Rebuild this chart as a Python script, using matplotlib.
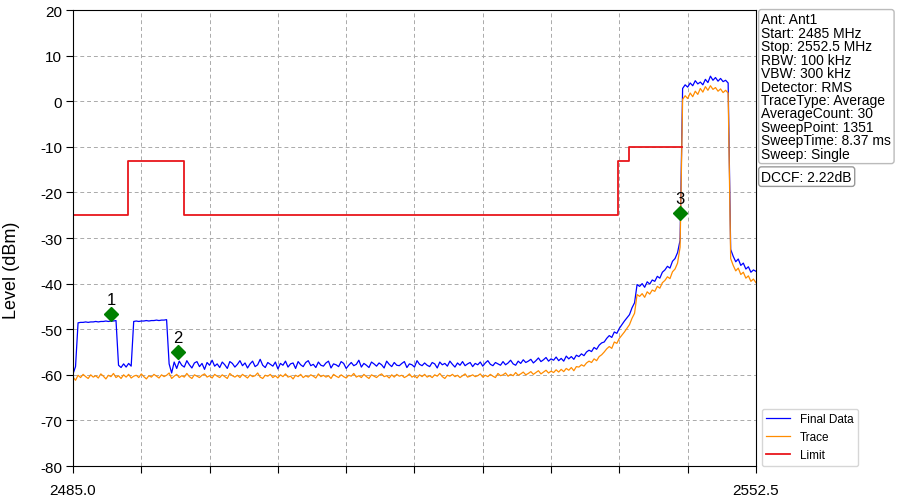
import numpy as np
import matplotlib.pyplot as plt

plt.rcParams['font.family'] = ['Liberation Sans', 'DejaVu Sans']
plt.rcParams['axes.unicode_minus'] = False

# sweep: 2485 .. 2552.5 MHz, read every 0.25 MHz
f_start = 2485.0
f_stop = 2552.5
freq = np.arange(f_start, f_stop + 0.001, 0.25)

# Final Data (dBm), 10 points per row = 2.5 MHz
final_data = [
    -59.8, -58.2, -48.6, -48.5, -48.5, -48.4, -48.5, -48.4, -48.4, -48.3,
    -48.4, -48.3, -48.3, -48.2, -48.3, -48.2, -48.2, -48.1, -57.9, -58.4,
    -57.6, -58.3, -57.5, -58.1, -48.3, -48.2, -48.3, -48.2, -48.2, -48.1,
    -48.2, -48.1, -48.1, -48.0, -48.1, -48.0, -48.0, -47.9, -57.6, -59.6,
    -57.2, -58.6, -57.0, -57.9, -58.3, -56.9, -57.8, -58.5, -57.4, -57.1,
    -58.2, -57.5, -58.8, -57.3, -57.9, -56.8, -58.1, -57.6, -58.4, -57.2,
    -57.8, -58.6, -57.1, -57.5, -58.3, -57.7, -56.9, -58.0, -57.4, -58.5,
    -57.6, -57.0, -58.2, -57.8, -56.6, -57.9, -58.4, -57.3, -57.7, -58.1,
    -57.2, -58.7, -57.5, -57.9, -57.0, -58.3, -57.6, -57.4, -58.6, -57.1,
    -57.8, -58.2, -57.3, -56.9, -58.0, -57.7, -58.4, -57.2, -57.9, -58.1,
    -57.4, -57.0, -58.5, -57.6, -57.8, -58.2, -57.1, -57.5, -58.6, -57.9,
    -57.3, -58.0, -57.7, -56.8, -58.3, -57.5, -57.9, -58.4, -57.2, -57.6,
    -58.1, -57.4, -57.8, -58.5, -57.0, -57.7, -58.2, -57.3, -57.9, -58.0,
    -57.5, -57.1, -58.4, -57.6, -57.8, -58.3, -56.9, -57.7, -58.0, -57.4,
    -57.9, -58.2, -57.3, -57.6, -58.5, -57.2, -57.8, -57.5, -58.1, -57.0,
    -57.7, -58.3, -57.4, -57.9, -57.1, -58.0, -57.6, -57.3, -58.2, -57.5,
    -57.8, -57.2, -58.1, -57.4, -56.9, -57.7, -58.0, -57.3, -57.6, -57.9,
    -57.1, -57.8, -57.4, -56.8, -57.6, -57.9, -57.0, -57.5, -56.7, -57.3,
    -57.0, -56.6, -57.4, -56.9, -56.3, -57.1, -56.7, -56.2, -57.0, -56.5,
    -56.8, -56.1, -56.9, -56.4, -57.0, -55.9, -56.5, -56.0, -56.6, -55.7,
    -56.0, -55.4, -55.8, -55.0, -54.6, -54.9, -54.0, -54.4, -53.5, -53.0,
    -52.8, -52.0, -51.4, -51.8, -50.6, -50.9, -49.8, -49.0, -48.2, -47.5,
    -46.8, -45.3, -44.2, -40.2, -40.6, -40.0, -40.8, -39.6, -40.1, -39.2,
    -39.5, -38.4, -38.8, -37.5, -37.0, -36.2, -36.6, -35.1, -34.5, -33.2,
    -30.5, 2.8, 3.6, 3.1, 4.0, 3.4, 4.5, 3.8, 4.2, 3.6,
    4.8, 4.1, 5.5, 4.6, 5.2, 4.4, 5.0, 4.3, 4.6, 4.0,
    -32.5, -34.0, -35.2, -34.6, -36.0, -35.5, -36.8, -36.3, -37.5, -37.0,
    -37.3,
]

# Trace (dBm)
trace = [
    -60.5, -61.2, -60.1, -60.6, -59.9, -60.4, -60.8, -60.0, -60.5, -60.2,
    -60.7, -59.8, -60.3, -60.9, -60.1, -60.4, -59.7, -60.6, -60.2, -60.8,
    -60.0, -60.5, -59.9, -60.7, -60.3, -60.1, -60.6, -59.8, -60.4, -60.9,
    -60.2, -60.5, -59.9, -60.3, -60.7, -60.0, -60.4, -60.1, -59.6, -60.8,
    -60.3, -59.9, -60.6, -60.2, -60.5, -59.7, -60.4, -60.8, -60.0, -60.3,
    -60.6, -60.1, -59.8, -60.5, -60.2, -60.7, -59.9, -60.3, -60.6, -60.0,
    -60.4, -60.8, -59.7, -60.2, -60.5, -60.1, -60.6, -59.9, -60.3, -60.7,
    -60.0, -60.4, -60.2, -59.6, -60.5, -60.8, -60.1, -60.3, -59.9, -60.6,
    -60.2, -60.7, -60.0, -60.4, -59.8, -60.5, -60.3, -60.9, -60.1, -60.4,
    -59.9, -60.6, -60.2, -60.5, -60.0, -60.3, -60.7, -59.8, -60.4, -60.1,
    -60.5, -60.2, -60.8, -59.9, -60.3, -60.6, -60.0, -60.4, -60.7, -60.1,
    -60.3, -59.7, -60.5, -60.2, -60.6, -59.9, -60.4, -60.8, -60.0, -60.3,
    -60.6, -60.1, -59.8, -60.4, -60.2, -60.7, -60.0, -60.5, -59.9, -60.3,
    -60.1, -60.6, -60.3, -59.8, -60.5, -60.2, -60.7, -60.0, -60.4, -59.9,
    -60.5, -60.2, -60.6, -60.0, -60.3, -59.7, -60.4, -60.8, -60.1, -60.3,
    -59.9, -60.4, -60.1, -60.6, -60.2, -59.8, -60.5, -60.3, -60.0, -60.4,
    -60.2, -59.8, -60.5, -60.1, -60.4, -59.9, -60.3, -60.6, -59.7, -60.2,
    -60.0, -59.6, -60.3, -59.9, -60.2, -59.5, -60.1, -59.8, -59.4, -60.0,
    -59.7, -59.3, -59.9, -59.5, -59.1, -59.8, -59.4, -59.0, -59.6, -59.2,
    -59.5, -58.9, -59.4, -58.8, -59.3, -58.6, -59.0, -58.4, -59.1, -58.2,
    -58.3, -57.8, -58.1, -57.4, -57.0, -57.3, -56.5, -56.9, -56.0, -55.6,
    -55.0, -54.3, -53.8, -54.2, -52.8, -53.1, -52.0, -51.3, -50.6, -49.8,
    -49.0, -47.6, -46.5, -42.4, -42.8, -42.2, -43.0, -41.8, -42.3, -41.4,
    -41.7, -40.6, -41.0, -39.8, -39.3, -38.5, -38.9, -37.4, -36.8, -35.5,
    -32.0, 0.4, 1.2, 0.6, 1.8, 1.0, 2.2, 1.5, 2.8, 2.0,
    3.2, 2.4, 3.4, 2.6, 3.0, 2.2, 2.7, 1.9, 2.4, 1.8,
    -34.5, -36.0, -37.2, -36.6, -38.0, -37.5, -38.8, -38.3, -39.5, -39.0,
    -39.8,
]

# Limit line (step corners)
limit_freq = [2485.0, 2490.4, 2490.4, 2496.0, 2496.0, 2538.9, 2538.9, 2540.0, 2540.0, 2545.2]
limit_level = [-25, -25, -13, -13, -25, -25, -13, -13, -10, -10]

# markers
marker_freq = [2488.8, 2495.4, 2545.0]
marker_level = [-46.6, -54.9, -24.6]
marker_names = ['1', '2', '3']

info_lines = [
    'Ant: Ant1',
    'Start: 2485 MHz',
    'Stop: 2552.5 MHz',
    'RBW: 100 kHz',
    'VBW: 300 kHz',
    'Detector: RMS',
    'TraceType: Average',
    'AverageCount: 30',
    'SweepPoint: 1351',
    'SweepTime: 8.37 ms',
    'Sweep: Single',
]
dccf_text = 'DCCF: 2.22dB'

fig = plt.figure(figsize=(8.99, 5.02), dpi=100)
ax = fig.add_axes([0.0812, 0.0697, 0.7597, 0.9083])

ax.plot(freq, final_data, color='blue', lw=0.9, label='Final Data')
ax.plot(freq, trace, color='darkorange', lw=0.9, label='Trace')
ax.plot(limit_freq, limit_level, color='#e8161b', lw=1.3, label='Limit')

ax.plot(marker_freq, marker_level, 'D', color='green', ms=7, zorder=5)
for fx, lv, nm in zip(marker_freq, marker_level, marker_names):
    ax.annotate(nm, (fx, lv), xytext=(0, 5), textcoords='offset points',
                ha='center', va='bottom', fontsize=12)

ax.set_xlim(f_start, f_stop)
ax.set_ylim(-80, 20)
xt = np.linspace(f_start, f_stop, 11)
ax.set_xticks(xt)
ax.set_xticklabels(['2485.0'] + [''] * 9 + ['2552.5'])
ax.set_yticks(np.arange(-80, 21, 10))
ax.tick_params(labelsize=11, length=5, pad=7)
ax.tick_params(axis='y', pad=3)
ax.grid(True, ls=(0, (4, 3)), color='#aaaaaa', lw=0.7)

ax.set_ylabel('Level (dBm)', fontsize=13)
ax.yaxis.set_label_coords(-0.078, 0.432)
ax.set_xlabel('Frequency (MHz)', fontsize=14, labelpad=3)

ax.text(1.008, 0.995, '\n'.join(info_lines), transform=ax.transAxes,
        va='top', ha='left', fontsize=10, linespacing=0.95,
        bbox=dict(boxstyle='round,pad=0.2', fc='white', ec='#bbbbbb'))
ax.text(1.008, 0.65, dccf_text, transform=ax.transAxes,
        va='top', ha='left', fontsize=10,
        bbox=dict(boxstyle='round,pad=0.2', fc='white', ec='#999999'))

ax.legend(loc='lower left', bbox_to_anchor=(1.005, -0.005), fontsize=8.5,
          frameon=True, edgecolor='#cccccc', fancybox=True, borderaxespad=0.2)

plt.savefig('out.png', dpi=100)
